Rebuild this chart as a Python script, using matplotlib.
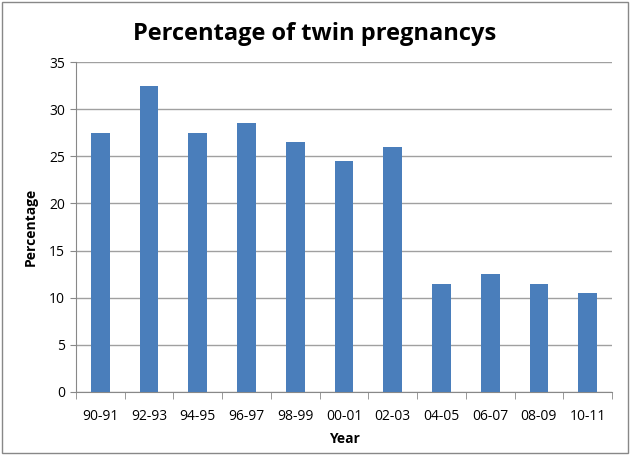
import matplotlib
matplotlib.use("Agg")
import matplotlib.pyplot as plt
from matplotlib.patches import Rectangle

years = ["90-91", "92-93", "94-95", "96-97", "98-99", "00-01",
         "02-03", "04-05", "06-07", "08-09", "10-11"]
percentages = [27.5, 32.5, 27.5, 28.5, 26.5, 24.5, 26, 11.5, 12.5, 11.5, 10.5]

plt.rcParams["font.family"] = ["Open Sans", "DejaVu Sans"]

fig = plt.figure(figsize=(6.3, 4.55), dpi=100)
ax = fig.add_axes([0.1206, 0.1385, 0.8508, 0.7252])

x = range(len(years))
ax.bar(x, percentages, width=0.385, color="#4a7ebb", zorder=3)

ax.set_xlim(-0.5, len(years) - 0.5)
ax.set_ylim(0, 35)
ax.set_yticks(range(0, 36, 5))
ax.set_xticks(list(x))
ax.set_xticklabels(years, fontsize=10)
ax.tick_params(axis="y", labelsize=10, length=4, color="#888888", pad=4)
ax.tick_params(axis="x", length=0, pad=12)
# category separators on the x axis
ax.set_xticks([i - 0.5 for i in range(len(years) + 1)], minor=True)
ax.tick_params(axis="x", which="minor", length=5, color="#888888")

ax.yaxis.grid(True, color="#a0a0a0", linewidth=1, zorder=0)
for side in ("top", "right"):
    ax.spines[side].set_visible(False)
ax.spines["left"].set_color("#888888")
ax.spines["bottom"].set_color("#888888")

ax.set_ylabel("Percentage", fontsize=10, fontweight="bold", labelpad=8)
ax.set_xlabel("Year", fontsize=10, fontweight="bold", labelpad=6)
fig.text(0.5, 0.925, "Percentage of twin pregnancys", ha="center", va="center",
         fontsize=17, fontweight="bold")

fig.patches.append(Rectangle((0.003, 0.004), 0.994, 0.992, transform=fig.transFigure,
                             fill=False, edgecolor="#888888", linewidth=1))

fig.savefig("out.png", dpi=100)
